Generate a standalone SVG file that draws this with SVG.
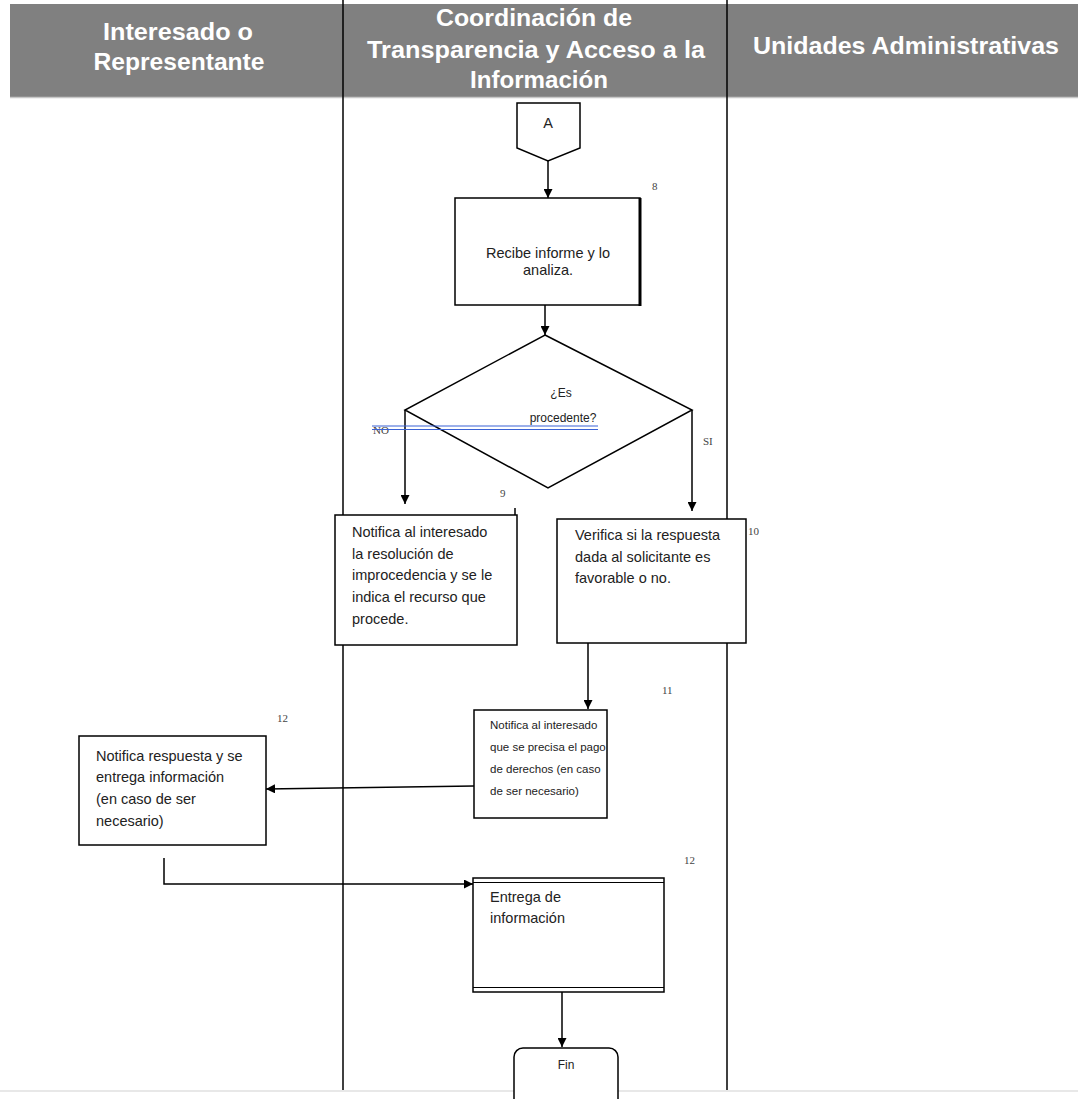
<svg xmlns="http://www.w3.org/2000/svg" width="1078" height="1099" viewBox="0 0 1078 1099">
<style>
.hdr{font-family:"Liberation Sans",Arial,sans-serif;font-weight:bold;font-size:24px;fill:#fff;text-anchor:middle}
.box{fill:#fff;stroke:#000;stroke-width:1.5}
.t{font-family:"Liberation Sans",Arial,sans-serif;font-size:14.5px;fill:#222}
.s{font-size:12px}
.xs{font-size:11.5px}
.n{font-family:"Liberation Serif","Times New Roman",serif;font-size:11px;fill:#444}
.c{fill:none;stroke:#000;stroke-width:1.5}
.lane{stroke:#000;stroke-width:1.5}
</style>
<defs>
<marker id="ah" viewBox="0 0 10 10" refX="10" refY="5" markerWidth="9" markerHeight="9" markerUnits="userSpaceOnUse" orient="auto">
<path d="M0,0 L10,5 L0,10 z" fill="#000"/>
</marker>
</defs>
<rect width="1078" height="1099" fill="#fff"/>
<g id="header">
<rect x="10" y="4" width="1068" height="93" fill="#808080"/>
<line x1="10" y1="97.5" x2="1078" y2="97.5" stroke="#c8c8c8" stroke-width="1.5"/>
<text class="hdr" x="178" y="40" textLength="150" lengthAdjust="spacingAndGlyphs">Interesado o</text>
<text class="hdr" x="179" y="70" textLength="171" lengthAdjust="spacingAndGlyphs">Representante</text>
<text class="hdr" x="534" y="26" textLength="196" lengthAdjust="spacingAndGlyphs">Coordinación de</text>
<text class="hdr" x="536" y="58" textLength="338" lengthAdjust="spacingAndGlyphs">Transparencia y Acceso a la</text>
<text class="hdr" x="539" y="88" textLength="138" lengthAdjust="spacingAndGlyphs">Información</text>
<text class="hdr" x="906" y="54" textLength="306" lengthAdjust="spacingAndGlyphs">Unidades Administrativas</text>
</g>
<g id="lanes">
<line class="lane" x1="343" y1="0" x2="343" y2="1090"/>
<line class="lane" x1="727" y1="0" x2="727" y2="1090"/>
<line x1="0" y1="1091" x2="1078" y2="1091" stroke="#e0e0e0" stroke-width="1.5"/>
</g>
<g id="connectors">
<path class="c" d="M548,160 L548,198" marker-end="url(#ah)"/>
<path class="c" d="M545,305 L545,335" marker-end="url(#ah)"/>
<path class="c" d="M405,410 L405,504" marker-end="url(#ah)"/>
<path class="c" d="M692,410 L692,511" marker-end="url(#ah)"/>
<path class="c" d="M588,643 L588,709" marker-end="url(#ah)"/>
<path class="c" d="M474,786 L266,789" marker-end="url(#ah)"/>
<path class="c" d="M164,858 L164,884 L473,884" marker-end="url(#ah)"/>
<path class="c" d="M562,992 L562,1047" marker-end="url(#ah)"/>
<line x1="515" y1="508" x2="515" y2="520" stroke="#000" stroke-width="1.5"/>
</g>
<g id="nodeA">
<path class="box" d="M517,103 L580,103 L580,148 L548,161 L517,148 Z"/>
<text class="t" x="548" y="128" text-anchor="middle" font-size="10">A</text>
</g>
<g id="node8">
<rect class="box" x="455" y="198" width="185" height="107"/>
<line x1="640" y1="198" x2="640" y2="306" stroke="#000" stroke-width="3"/>
<text class="t" x="548" y="258" text-anchor="middle">Recibe informe y lo</text>
<text class="t" x="548" y="275" text-anchor="middle">analiza.</text>
<text class="n" x="652" y="190">8</text>
</g>
<g id="decision">
<path class="box" d="M545,335 L692,410 L548,488 L405,410 Z"/>
<text class="t s" x="561" y="397" text-anchor="middle">¿Es</text>
<text class="t s" x="563" y="422" text-anchor="middle">procedente?</text>
<text class="n" x="373" y="434">NO</text>
<line x1="372" y1="426" x2="598" y2="426" stroke="#3a62d6" stroke-width="1.2"/>
<line x1="372" y1="429.5" x2="598" y2="429.5" stroke="#3a62d6" stroke-width="1.2"/>
<text class="n" x="703" y="445" font-size="12">SI</text>
</g>
<g id="node9">
<rect class="box" x="335" y="515" width="182" height="130"/>
<text class="t" x="352" y="537">Notifica al interesado</text>
<text class="t" x="352" y="559">la resolución de</text>
<text class="t" x="352" y="580">improcedencia y se le</text>
<text class="t" x="352" y="602">indica el recurso que</text>
<text class="t" x="352" y="624">procede.</text>
<text class="n" x="500" y="497" font-size="9">9</text>
</g>
<g id="node10">
<rect class="box" x="557" y="519" width="189" height="124"/>
<text class="t" x="575" y="540">Verifica si la respuesta</text>
<text class="t" x="575" y="562">dada al solicitante es</text>
<text class="t" x="575" y="583">favorable o no.</text>
<text class="n" x="748" y="535">10</text>
</g>
<g id="node11">
<rect class="box" x="474" y="710" width="133" height="108"/>
<text class="t xs" x="490" y="729">Notifica al interesado</text>
<text class="t xs" x="490" y="751">que se precisa el pago</text>
<text class="t xs" x="490" y="773">de derechos (en caso</text>
<text class="t xs" x="490" y="795">de ser necesario)</text>
<text class="n" x="662" y="694">11</text>
</g>
<g id="node12a">
<rect class="box" x="79" y="736" width="187" height="109"/>
<text class="t" x="96" y="761">Notifica respuesta y se</text>
<text class="t" x="96" y="782">entrega información</text>
<text class="t" x="96" y="804">(en caso de ser</text>
<text class="t" x="96" y="826">necesario)</text>
<text class="n" x="277" y="722">12</text>
</g>
<g id="node12b">
<rect class="box" x="473" y="878" width="191" height="114"/>
<line x1="473" y1="882.5" x2="664" y2="882.5" stroke="#000" stroke-width="1.2"/>
<line x1="473" y1="987.5" x2="664" y2="987.5" stroke="#000" stroke-width="1.2"/>
<text class="t" x="490" y="902" font-size="14">Entrega de</text>
<text class="t" x="490" y="923" font-size="14">información</text>
<text class="n" x="684" y="864">12</text>
</g>
<g id="fin">
<rect class="box" x="514" y="1048" width="104" height="60" rx="9" stroke="#555" stroke-width="2"/>
<text class="t s" x="566" y="1069" text-anchor="middle">Fin</text>
</g>
</svg>
